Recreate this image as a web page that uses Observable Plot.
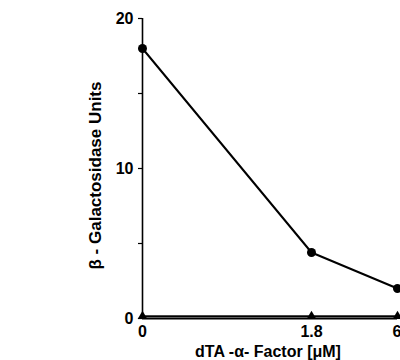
<!DOCTYPE html>
<html>
<head>
<meta charset="utf-8">
<script src="https://cdn.jsdelivr.net/npm/d3@7"></script>
<script src="https://cdn.jsdelivr.net/npm/@observablehq/plot@0.6"></script>
<style>
  html, body { margin: 0; padding: 0; background: #fff; }
  #chart svg { display: block; }
</style>
</head>
<body>
<div id="chart"></div>
<script>
// Data
const doses = [0, 1.8, 6];
const doseLabels = ["0", "1.8", "6"];
const galUnits = [18, 4.4, 2.0];         // filled circles, solid line
const controlUnits = [0.15, 0.15, 0.15]; // filled triangles, dotted line
const yTickValues = [0, 5, 10, 15, 20];
const yTickLabels = [0, 10, 20];
const xTitle = "dTA -α- Factor [μM]";
const yTitle = "β - Galactosidase Units";

const circles = doses.map((d, i) => ({dose: d, value: galUnits[i]}));
const triangles = doses.map((d, i) => ({dose: d, value: controlUnits[i]}));
const lastDose = doses[doses.length - 1];

const font = "'Liberation Sans', Arial, Helvetica, sans-serif";
const xLabel = d => doseLabels[doses.indexOf(d)];

const chart = Plot.plot({
  width: 400,
  height: 360,
  marginLeft: 142,
  marginRight: 3,
  marginTop: 18,
  marginBottom: 42,
  style: {fontFamily: font, fontWeight: "bold", fontSize: "16px", color: "#000", background: "#fff"},
  x: {type: "linear", domain: [0, 1.8, 6], range: [142, 311, 397]},
  y: {domain: [0, 20], range: [318, 18]},
  marks: [
    Plot.axisY({
      ticks: yTickValues,
      tickSize: 4,
      tickPadding: 5,
      tickFormat: d => yTickLabels.includes(d) ? String(d) : "",
      label: null,
      fontSize: 16,
      strokeWidth: 1.2
    }),
    Plot.axisX({
      ticks: doses.filter(d => d !== lastDose),
      tickSize: 0,
      tickPadding: 7,
      tickFormat: xLabel,
      label: null,
      fontSize: 16
    }),
    Plot.axisX({
      ticks: [lastDose],
      tickSize: 0,
      tickPadding: 7,
      tickFormat: xLabel,
      label: null,
      fontSize: 16,
      textAnchor: "end",
      dx: 4
    }),
    Plot.ruleX([0], {stroke: "#000", strokeWidth: 1.6}),
    Plot.ruleY([0], {stroke: "#000", strokeWidth: 2}),
    Plot.line(triangles, {x: "dose", y: "value", stroke: "#000", strokeWidth: 2, strokeDasharray: "1,1"}),
    Plot.dot(triangles, {x: "dose", y: "value", symbol: "triangle", r: 3.6, fill: "#000", stroke: "none"}),
    Plot.line(circles, {x: "dose", y: "value", stroke: "#000", strokeWidth: 2}),
    Plot.dot(circles, {x: "dose", y: "value", r: 4.5, fill: "#000", stroke: "none"}),
    Plot.text([yTitle], {frameAnchor: "left", textAnchor: "middle", lineAnchor: "middle", dx: -47, dy: 7, rotate: -90, fontSize: 17, fontWeight: "bold", fill: "#000"}),
    Plot.text([xTitle], {frameAnchor: "bottom", textAnchor: "middle", lineAnchor: "middle", dx: -2, dy: 33, fontSize: 16, fontWeight: "bold", fill: "#000"})
  ]
});
document.getElementById("chart").appendChild(chart);
</script>
</body>
</html>
